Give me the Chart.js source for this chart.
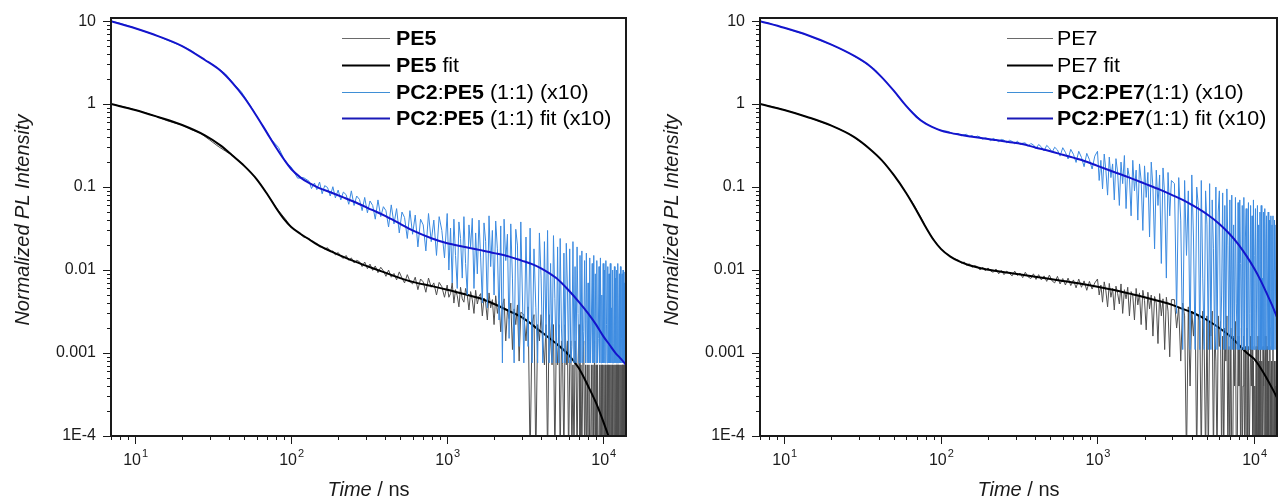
<!DOCTYPE html>
<html>
<head>
<meta charset="utf-8">
<script src="https://cdn.jsdelivr.net/npm/chart.js@4/dist/chart.umd.min.js"></script>
<style>
  html, body { margin: 0; padding: 0; background: #fff; }
  #wrap { position: relative; width: 1278px; height: 501px; }
  canvas { position: absolute; top: 0; }
  #cA { left: 0; }
  #cB { left: 645px; }
</style>
</head>
<body>
<div id="wrap">
  <canvas id="cA" width="645" height="501"></canvas>
  <canvas id="cB" width="633" height="501"></canvas>
</div>
<script>
// ─── Axes ────────────────────────────────────────────────────────────────────
const X_MIN = 7, X_MAX = 14000;
const Y_MIN = 1e-4, Y_MAX = 10.9;
const X_TICKS = [10, 100, 1000, 10000];
const X_TICK_EXP = ['1', '2', '3', '4'];
const Y_TICKS = [1e-4, 1e-3, 1e-2, 0.1, 1, 10];
const Y_TICK_LABELS = ['1E-4', '0.001', '0.01', '0.1', '1', '10'];
const X_DECADES = [0, 1, 2, 3, 4];
const Y_DECADES = [-4, -3, -2, -1, 0, 1];

// ─── Measured decays (time in ns; 5e-5 = zero counts, below the axis) ────────
const rawTime = [
  7, 8, 9, 10, 12, 14, 16, 18, 20, 23, 26, 30, 34, 38, 43, 48, 54, 60, 67, 75, 83, 92, 100, 110, 120,
  // 130 – 961
  130, 135, 141, 146, 152, 158, 164, 171, 178, 185,
  192, 200, 208, 216, 225, 234, 243, 253, 263, 274,
  285, 296, 308, 320, 333, 346, 360, 375, 390, 405,
  421, 438, 456, 474, 493, 513, 533, 555, 577, 600,
  624, 649, 675, 702, 730, 759, 790, 821, 854, 888,
  924, 961,
  // 1000 – 2964
  1000, 1025, 1051, 1077, 1104, 1131, 1160, 1189, 1218, 1249,
  1280, 1312, 1345, 1379, 1413, 1448, 1485, 1522, 1560, 1599,
  1639, 1680, 1722, 1765, 1809, 1854, 1900, 1948, 1997, 2046,
  2098, 2150, 2204, 2259, 2315, 2373, 2433, 2493, 2556, 2620,
  2685, 2752, 2821, 2892, 2964,
  // 3100 – 14000
  3100, 3200, 3300, 3400, 3500, 3600, 3700, 3800, 3900, 4000,
  4100, 4200, 4300, 4400, 4500, 4600, 4700, 4800, 4900, 5000,
  5100, 5200, 5300, 5400, 5500, 5600, 5700, 5800, 5900, 6000,
  6100, 6200, 6300, 6400, 6500, 6600, 6700, 6800, 6900, 7000,
  7100, 7200, 7300, 7400, 7500, 7600, 7700, 7800, 7900, 8000,
  8100, 8200, 8300, 8400, 8500, 8600, 8700, 8800, 8900, 9000,
  9100, 9200, 9300, 9400, 9500, 9600, 9700, 9800, 9900, 10000,
  10100, 10200, 10300, 10400, 10500, 10600, 10700, 10800, 10900, 11000,
  11100, 11200, 11300, 11400, 11500, 11600, 11700, 11800, 11900, 12000,
  12100, 12200, 12300, 12400, 12500, 12600, 12700, 12800, 12900, 13000,
  13100, 13200, 13300, 13400, 13500, 13600, 13700, 13800, 13900, 14000,
];

const pe5Raw = [
  1.0, 0.95, 0.9, 0.85, 0.77, 0.70, 0.63, 0.59, 0.56, 0.49, 0.45, 0.37, 0.31, 0.27, 0.235, 0.195, 0.155, 0.125, 0.094, 0.068,
  0.052, 0.041, 0.033, 0.029, 0.025,
  .0240, .0226, .0208, .0210, .0190, .0192, .0178, .0186, .0166, .0170,
  .0152, .0163, .0146, .0138, .0150, .0131, .0140, .0122, .0131, .0126,
  .0110, .0125, .0104, .0118, .0099, .0112, .0093, .0108, .0098, .0084,
  .0100, .0082, .0091, .0076, .0095, .0080, .0070, .0088, .0073, .0068,
  .0082, .0058, .0078, .0072, .0054, .0080, .0062, .0070, .0050, .0071,
  .0063, .0047,
  .0066, .0047, .0052, .0070, .0040, .0058, .0049, .0036, .0062, .0045,
  .0041, .0060, .0050, .0033, .0055, .0044, .0030, .0057, .0039, .0048,
  .0052, .0028, .0046, .0040, .0025, .0053, .0035, .0044, .0022, .0049,
  .0030, .0042, .0018, .0036, .0045, .0014, .0033, .0026, .0040, .0011,
  .0034, .0022, .0038, .0008, .0031,
  .0029, .0014, .0036, .00005, .0022, .0029, .00005, .0022, .0014, .0029,
  .0014, .00072, .0022, .00005, .0029, .0014, .00072, .0022, .00005, .0014,
  .00072, .0022, .00005, .0014, .00072, .00005, .0022, .00072, .0014, .00005,
  .00072, .0014, .00005, .00072, .00005, .0014, .00072, .00005, .00072, .0022,
  .00005, .00072, .00005, .00072, .0014, .00005, .00072, .00005, .00072, .00005,
  .00072, .00005, .00005, .00072, .00005, .00072, .00005, .0014, .00005, .00072,
  .00005, .00072, .00005, .00005, .00072, .00005, .00072, .00005, .00072, .00005,
  .00072, .00005, .00072, .00005, .00005, .00072, .00005, .00072, .00005, .00072,
  .00005, .00072, .00005, .00072, .00005, .00005, .00072, .00005, .00072, .00005,
  .00072, .00005, .00072, .00005, .00072, .00005, .00005, .00072, .00005, .00072,
  .00005, .00072, .00005, .00072, .00005, .00072, .00005, .00005, .00072, .00005,
];

const pc2pe5Raw = [
  10, 9.4, 8.8, 8.2, 7.3, 6.6, 5.9, 5.4, 5.0, 4.4, 3.7, 3.15, 2.7, 2.3, 1.75, 1.4, 1.0, 0.72, 0.52, 0.37,
  0.30, 0.20, 0.175, 0.128, 0.13,
  .118, .096, .112, .093, .115, .083, .104, .099, .078, .101,
  .074, .092, .070, .087, .081, .062, .090, .060, .078, .071,
  .052, .075, .049, .068, .060, .041, .070, .044, .058, .052,
  .033, .061, .036, .055, .028, .050, .043, .024, .052, .027,
  .046, .019, .041, .035, .017, .048, .022, .040, .015, .044,
  .030, .014,
  .048, .010, .032, .007, .041, .015, .006, .038, .024, .008,
  .044, .012, .005, .035, .019, .042, .006, .028, .009, .040,
  .014, .004, .037, .022, .0035, .045, .011, .030, .005, .039,
  .018, .0025, .034, .00076, .041, .013, .027, .0015, .036, .008,
  .00076, .031, .020, .0012, .038,
  .00076, .025, .0012, .032, .00076, .018, .0035, .00076, .028, .008,
  .00076, .022, .0015, .030, .00076, .012, .00076, .026, .0045, .00076,
  .019, .00076, .024, .002, .00076, .016, .00076, .021, .006, .00076,
  .018, .00076, .0012, .022, .00076, .011, .00076, .019, .003, .00076,
  .015, .00076, .017, .00076, .0018, .013, .00076, .016, .00076, .007,
  .00076, .014, .00076, .0025, .012, .00076, .015, .00076, .009, .00076,
  .013, .00076, .0015, .011, .00076, .014, .00076, .005, .00076, .012,
  .00076, .010, .00076, .013, .0022, .00076, .011, .00076, .009, .00076,
  .012, .00076, .0035, .00076, .010, .00076, .0013, .011, .00076, .008,
  .00076, .010, .00076, .012, .00076, .0025, .009, .00076, .011, .00076,
  .0015, .009, .00076, .010, .00076, .007, .00076, .0095, .00076, .008,
];

const pe7Raw = [
  1.0, 0.95, 0.9, 0.85, 0.77, 0.70, 0.64, 0.59, 0.55, 0.49, 0.44, 0.36, 0.31, 0.25, 0.20, 0.155, 0.115, 0.085, 0.062, 0.042,
  0.029, 0.022, 0.018, 0.0155, 0.0138,
  .0131, .0121, .0125, .0114, .0119, .0108, .0113, .0110, .0100, .0108,
  .0098, .0106, .0097, .0094, .0103, .0090, .0099, .0088, .0097, .0091,
  .0085, .0097, .0086, .0092, .0081, .0094, .0083, .0079, .0090, .0077,
  .0088, .0076, .0085, .0073, .0087, .0074, .0070, .0084, .0068, .0079,
  .0066, .0080, .0065, .0076, .0061, .0078, .0062, .0074, .0057, .0073,
  .0059, .0070,
  .0078, .0050, .0066, .0041, .0072, .0056, .0036, .0069, .0047, .0060,
  .0033, .0064, .0052, .0039, .0068, .0030, .0058, .0045, .0062, .0028,
  .0055, .0049, .0025, .0060, .0038, .0053, .0022, .0057, .0043, .0019,
  .0054, .0034, .0050, .0016, .0048, .0040, .0013, .0052, .0028, .0045,
  .0011, .0047, .0032, .0009, .0044,
  .0044, .0020, .0036, .0008, .0040, .0028, .00005, .0036, .0004, .0032,
  .0016, .0036, .00005, .0028, .0024, .00005, .0032, .0012, .00005, .0028,
  .00005, .0024, .0016, .0032, .00005, .0020, .0008, .00005, .0028, .0012,
  .0024, .00005, .0016, .00005, .0020, .0008, .0028, .00005, .0012, .00005,
  .0020, .00005, .00005, .0016, .0004, .0024, .00005, .00005, .0016, .0004,
  .0012, .00005, .0020, .00005, .0004, .0016, .00005, .0012, .00005, .0020,
  .00005, .0012, .00005, .00005, .0016, .0004, .0012, .00005, .0008, .00005,
  .0004, .00005, .0012, .00005, .00005, .0016, .00005, .0008, .00005, .0012,
  .00005, .0008, .00005, .0012, .0004, .00005, .0008, .0016, .00005, .00005,
  .0012, .00005, .0008, .00005, .00005, .0012, .0004, .00005, .0008, .00005,
  .00005, .0012, .00005, .00005, .0008, .0004, .00005, .0008, .00005, .0004,
];

const pc2pe7Raw = [
  10, 9.4, 8.8, 8.3, 7.4, 6.8, 6.1, 5.6, 5.2, 4.6, 4.1, 3.5, 3.0, 2.6, 2.0, 1.6, 1.2, 0.95, 0.78, 0.64,
  0.56, 0.51, 0.48, 0.47, 0.44,
  .44, .415, .428, .432, .405, .418, .395, .412, .40, .378,
  .392, .383, .362, .386, .371, .352, .375, .368, .342, .366,
  .355, .333, .358, .326, .338, .341, .31, .335, .322, .29,
  .326, .305, .272, .318, .296, .262, .302, .28, .236, .298,
  .262, .218, .285, .248, .198, .27, .228, .176, .255, .214,
  .165, .236,
  .27, .12, .21, .095, .25, .16, .08, .23, .13, .19,
  .07, .22, .15, .06, .20, .11, .24, .055, .17, .13,
  .045, .21, .09, .16, .04, .19, .12, .03, .18, .075,
  .15, .025, .20, .10, .018, .16, .06, .14, .012, .17,
  .08, .008, .15, .045, .12,
  .11, .003, .13, .04, .0011, .12, .015, .09, .0011, .14,
  .025, .0011, .10, .06, .0011, .12, .008, .0011, .09, .035,
  .0011, .11, .0011, .07, .018, .0011, .10, .0011, .05, .09,
  .0011, .005, .085, .0011, .06, .0011, .095, .02, .0011, .07,
  .0011, .08, .0011, .035, .0011, .075, .004, .0011, .065, .0011,
  .07, .012, .0011, .06, .0011, .075, .0011, .025, .055, .0011,
  .0011, .065, .0011, .003, .06, .0011, .045, .0011, .07, .0011,
  .015, .055, .0011, .0011, .06, .0011, .035, .0011, .05, .0011,
  .06, .0011, .008, .0011, .05, .0011, .055, .0011, .02, .045,
  .0011, .0011, .05, .0011, .04, .0011, .002, .045, .0011, .035,
  .0011, .045, .0011, .01, .04, .0011, .0011, .035, .0011, .03,
];

// ─── Fitted decays ───────────────────────────────────────────────────────────
const fitTime = [
  7, 10, 14, 20, 28, 35, 42, 50, 60, 70, 80, 90, 100, 115, 130, 150, 180, 220, 270, 330, 400,
  500, 600, 800, 1000, 1300, 1600, 2000, 2500, 3000, 3500, 4000, 5000, 6000, 7000, 8000, 9000,
  10000, 11000, 12000, 13000, 14000,
];
const pe5Fit = [
  1.0, 0.85, 0.70, 0.56, 0.42, 0.32, 0.24, 0.18, 0.125, 0.083, 0.056, 0.041, 0.033, 0.0272, 0.0235, 0.0198, 0.0168,
  0.0142, 0.0122, 0.0106, 0.0093, 0.0080, 0.0072, 0.0064, 0.0058, 0.0051, 0.0046, 0.0039, 0.0032, 0.0027, 0.0022,
  0.0018, 0.0013, 0.00095, 0.00065, 0.00040, 0.00025, 0.00015, 0.00009, 0.00005, 0.00003, 0.00002,
];
const pc2pe5Fit = [
  10, 8.2, 6.6, 5.0, 3.4, 2.55, 1.8, 1.2, 0.72, 0.45, 0.30, 0.215, 0.165, 0.13, 0.112, 0.098, 0.086, 0.074, 0.063,
  0.053, 0.045, 0.036, 0.030, 0.024, 0.021, 0.019, 0.0175, 0.016, 0.0145, 0.013, 0.0118, 0.0105, 0.0080, 0.0057,
  0.0041, 0.0030, 0.0022, 0.0016, 0.00125, 0.0010, 0.00085, 0.00072,
];
const pe7Fit = [
  1.0, 0.85, 0.70, 0.55, 0.40, 0.29, 0.21, 0.14, 0.085, 0.052, 0.033, 0.023, 0.018, 0.0145, 0.0128, 0.0115, 0.0105,
  0.0098, 0.0093, 0.0088, 0.0083, 0.0078, 0.0074, 0.0068, 0.0063, 0.0057, 0.0052, 0.0047, 0.0042, 0.0038, 0.0034,
  0.0031, 0.0025, 0.0020, 0.0016, 0.00125, 0.0010, 0.00085, 0.00066, 0.00050, 0.00038, 0.00029,
];
const pc2pe7Fit = [
  10, 8.3, 6.8, 5.2, 3.8, 2.9, 2.1, 1.45, 0.95, 0.70, 0.58, 0.52, 0.48, 0.45, 0.43, 0.41, 0.39, 0.37, 0.35, 0.33,
  0.30, 0.27, 0.245, 0.21, 0.18, 0.15, 0.13, 0.11, 0.093, 0.080, 0.070, 0.061, 0.047, 0.036, 0.027, 0.020, 0.0145,
  0.0105, 0.0075, 0.0053, 0.0038, 0.0027,
];

// ─── Legend text (bold runs marked true) ─────────────────────────────────────
const legendA = [
  [['PE5', true]],
  [['PE5', true], [' fit', false]],
  [['PC2', true], [':', false], ['PE5', true], [' (1:1) (x10)', false]],
  [['PC2', true], [':', false], ['PE5', true], [' (1:1) fit (x10)', false]],
];
const legendB = [
  [['PE7', false]],
  [['PE7 fit', false]],
  [['PC2', true], [':', false], ['PE7', true], ['(1:1) (x10)', false]],
  [['PC2', true], [':', false], ['PE7', true], ['(1:1) fit (x10)', false]],
];

// ─── Styles ──────────────────────────────────────────────────────────────────
const FONT = '"Liberation Sans", Arial, sans-serif';
const STYLES = [
  { color: '#4f4f4f', width: 1, legendColor: '#6a6a6a' },  // raw
  { color: '#000000', width: 2, legendColor: '#000000' },  // fit
  { color: '#3b8ae0', width: 1, legendColor: '#3f8fd6' },  // x10 raw
  { color: '#1414cc', width: 2, legendColor: '#1a1ab8' },  // x10 fit
];

function toXY(xs, ys) {
  return xs.map((x, i) => ({ x, y: ys[i] })).filter(p => p.y !== undefined);
}

// draws mixed bold/regular runs, slightly widened like the source figure
function drawRuns(ctx, runs, x, y, size, stretch) {
  ctx.save();
  ctx.translate(x, y);
  ctx.scale(stretch, 1);
  let cx = 0;
  for (const [text, bold] of runs) {
    ctx.font = `${bold ? 'bold ' : ''}${size}px ${FONT}`;
    ctx.fillText(text, cx, 0);
    cx += ctx.measureText(text).width;
  }
  ctx.restore();
}

// ─── Frame, ticks, labels, titles, legend ────────────────────────────────────
const panelDecor = {
  id: 'panelDecor',
  afterDatasetsDraw(chart, args, opts) {
    const { ctx, chartArea: a } = chart;
    const xs = chart.scales.x, ys = chart.scales.y;
    ctx.save();
    ctx.strokeStyle = '#1a1a1a';
    ctx.fillStyle = '#1a1a1a';

    ctx.lineWidth = 1;
    ctx.beginPath();
    for (const d of X_DECADES) {
      for (let m = 1; m <= 9; m++) {
        const v = m * Math.pow(10, d);
        if (v < X_MIN || v > X_MAX) continue;
        const px = Math.round(xs.getPixelForValue(v)) + 0.5;
        ctx.moveTo(px, a.bottom);
        ctx.lineTo(px, a.bottom + (m === 1 ? 8 : 4));
      }
    }
    for (const d of Y_DECADES) {
      for (let m = 1; m <= 9; m++) {
        const v = m * Math.pow(10, d);
        if (v < Y_MIN || v > Y_MAX) continue;
        const py = Math.round(ys.getPixelForValue(v)) + 0.5;
        ctx.moveTo(a.left, py);
        ctx.lineTo(a.left - (m === 1 ? 8 : 4), py);
      }
    }
    ctx.stroke();

    ctx.lineWidth = 2;
    ctx.strokeRect(a.left, a.top, a.right - a.left, a.bottom - a.top);

    // x tick labels: 10 with superscript exponent
    ctx.textBaseline = 'middle';
    ctx.textAlign = 'left';
    X_TICKS.forEach((v, i) => {
      const px = xs.getPixelForValue(v);
      ctx.font = `16px ${FONT}`;
      const wBase = ctx.measureText('10').width;
      ctx.font = `11px ${FONT}`;
      const wExp = ctx.measureText(X_TICK_EXP[i]).width;
      const x0 = px - (wBase + wExp) / 2;
      ctx.font = `16px ${FONT}`;
      ctx.fillText('10', x0, a.bottom + 25);
      ctx.font = `11px ${FONT}`;
      ctx.fillText(X_TICK_EXP[i], x0 + wBase + 1, a.bottom + 18);
    });

    // y tick labels
    ctx.textAlign = 'right';
    ctx.font = `16px ${FONT}`;
    Y_TICKS.forEach((v, i) => {
      ctx.fillText(Y_TICK_LABELS[i], a.left - 15, ys.getPixelForValue(v));
    });

    // x title: italic "Time" + " / ns"
    ctx.textAlign = 'left';
    ctx.font = `italic 20px ${FONT}`;
    const wT = ctx.measureText('Time').width;
    ctx.font = `20px ${FONT}`;
    const wR = ctx.measureText(' / ns').width;
    const tx = (a.left + a.right) / 2 - (wT + wR) / 2;
    ctx.font = `italic 20px ${FONT}`;
    ctx.fillText('Time', tx, 490);
    ctx.font = `20px ${FONT}`;
    ctx.fillText(' / ns', tx + wT, 490);

    // y title
    ctx.save();
    ctx.translate(opts.yTitleX, (a.top + a.bottom) / 2 - 7);
    ctx.rotate(-Math.PI / 2);
    ctx.textAlign = 'center';
    ctx.font = `italic 20px ${FONT}`;
    ctx.fillText('Normalized PL Intensity', 0, 0);
    ctx.restore();

    // legend
    ctx.textAlign = 'left';
    opts.legend.forEach((runs, i) => {
      const y = opts.legendRows[i];
      const st = STYLES[i];
      ctx.strokeStyle = st.legendColor;
      ctx.lineWidth = st.width;
      ctx.beginPath();
      ctx.moveTo(opts.legendLine[0], y + 0.5);
      ctx.lineTo(opts.legendLine[1], y + 0.5);
      ctx.stroke();
      ctx.fillStyle = '#000';
      drawRuns(ctx, runs, opts.legendText, y + 1, 20, 1.07);
    });
    ctx.restore();
  },
};

function makePanel(canvasId, series, legend, leftWidth, padRight, lineX, textX, yTitleX) {
  const datasets = series.map((s, i) => ({
    data: toXY(s.t, s.v),
    borderColor: STYLES[i].color,
    borderWidth: STYLES[i].width,
    pointRadius: 0,
    fill: false,
    tension: 0,
    cubicInterpolationMode: i % 2 === 1 ? 'monotone' : 'default',
    order: 4 - i,
  }));
  return new Chart(document.getElementById(canvasId), {
    type: 'line',
    data: { datasets },
    options: {
      responsive: false,
      animation: false,
      events: [],
      layout: { padding: { top: 18, right: padRight, left: 0, bottom: 0 } },
      plugins: {
        legend: { display: false },
        tooltip: { enabled: false },
        panelDecor: {
          legend,
          legendRows: [38, 65, 92, 118],
          legendLine: lineX,
          legendText: textX,
          yTitleX,
        },
      },
      scales: {
        x: {
          type: 'logarithmic', min: X_MIN, max: X_MAX,
          grid: { display: false, drawTicks: false },
          border: { display: false },
          ticks: { display: false },
          afterFit: s => { s.height = 65; },
        },
        y: {
          type: 'logarithmic', min: Y_MIN, max: Y_MAX,
          grid: { display: false, drawTicks: false },
          border: { display: false },
          ticks: { display: false },
          afterFit: s => { s.width = leftWidth; },
        },
      },
    },
    plugins: [panelDecor],
  });
}

makePanel('cA', [
  { t: rawTime, v: pe5Raw },
  { t: fitTime, v: pe5Fit },
  { t: rawTime, v: pc2pe5Raw },
  { t: fitTime, v: pc2pe5Fit },
], legendA, 111, 19, [342, 390], 396, 23);

makePanel('cB', [
  { t: rawTime, v: pe7Raw },
  { t: fitTime, v: pe7Fit },
  { t: rawTime, v: pc2pe7Raw },
  { t: fitTime, v: pc2pe7Fit },
], legendB, 115, 1, [362, 408], 412, 27);
</script>
</body>
</html>
